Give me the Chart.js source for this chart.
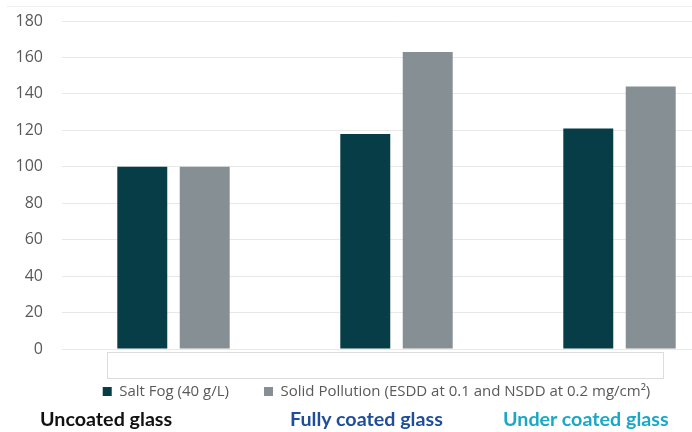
<!DOCTYPE html>
<html lang="en">
<head>
<meta charset="UTF-8">
<title>Salt fog vs solid pollution</title>
<script src="https://cdn.jsdelivr.net/npm/chart.js"></script>
<style>
    html, body { margin: 0; padding: 0; background: #fff; }
    body { width: 692px; height: 432px; overflow: hidden; position: relative; font-family: "Open Sans", sans-serif; }
    #frame { position: absolute; left: 7px; top: 6px; width: 700px; border-top: 1px solid #eeeeee; }
    #wrap { position: absolute; left: 0; top: 0; width: 731px; height: 440px; }
    #axisBox { position: absolute; left: 107px; top: 352px; width: 555px; height: 25px; border: 1px solid #dcdcdc; }
    .cat { position: absolute; top: 407px; font-family: Lato, sans-serif; font-weight: bold; font-size: 19.7px; white-space: nowrap; }
</style>
</head>
<body>
<div id="frame"></div>
<div id="axisBox"></div>
<div id="wrap"><canvas id="chart" width="731" height="440"></canvas></div>
<div id="cats"></div>

<script>
const categories = ['Uncoated glass', 'Fully coated glass', 'Under coated glass'];
const catColors = ['#111111', '#1f4e99', '#1aa8c6'];
const catLeft = [40, 290, 503];

const saltFog = [100, 118, 121];
const solidPollution = [100, 163, 144];

const yTicks = [0, 20, 40, 60, 80, 100, 120, 140, 160, 180];

// category names sit under the chart as plain text
const cats = document.getElementById('cats');
categories.forEach((c, i) => {
    const d = document.createElement('div');
    d.className = 'cat';
    d.textContent = c;
    d.style.left = catLeft[i] + 'px';
    d.style.color = catColors[i];
    cats.appendChild(d);
});

// the canvas is wider than the page, nudge the legend to the visible centre
const legendShift = {
    id: 'legendShift',
    afterLayout(chart) {
        chart.legend.left += 11;
        chart.legend.right += 11;
    }
};

const ctx = document.getElementById('chart').getContext('2d');
const chart = new Chart(ctx, {
    type: 'bar',
    data: {
        labels: categories,
        datasets: [
            {
                label: 'Salt Fog (40 g/L)',
                data: saltFog,
                backgroundColor: '#073d47',
                barPercentage: 0.8,
                categoryPercentage: 0.56
            },
            {
                label: 'Solid Pollution (ESDD at 0.1 and NSDD at 0.2 mg/cm²)',
                data: solidPollution,
                backgroundColor: '#858f94',
                barPercentage: 0.8,
                categoryPercentage: 0.56
            }
        ]
    },
    plugins: [legendShift],
    options: {
        responsive: false,
        animation: false,
        layout: { padding: { top: 21, left: 0, right: 0, bottom: 31 } },
        plugins: {
            tooltip: { enabled: false },
            legend: {
                position: 'bottom',
                labels: {
                    boxWidth: 9,
                    boxHeight: 9,
                    padding: 35,
                    color: '#595959',
                    font: { family: 'Open Sans', size: 15 }
                }
            }
        },
        scales: {
            x: { display: false },
            y: {
                min: 0,
                max: 180,
                afterFit: s => { s.width = 62; },
                afterBuildTicks: s => { s.ticks = yTicks.map(v => ({ value: v })); },
                border: { display: false },
                grid: { color: '#e8e8e8', drawTicks: true, tickLength: 15, tickColor: 'rgba(0,0,0,0)' },
                ticks: {
                    padding: 4,
                    color: '#595959',
                    font: { family: 'Open Sans', size: 16 }
                }
            }
        }
    }
});
</script>
</body>
</html>
